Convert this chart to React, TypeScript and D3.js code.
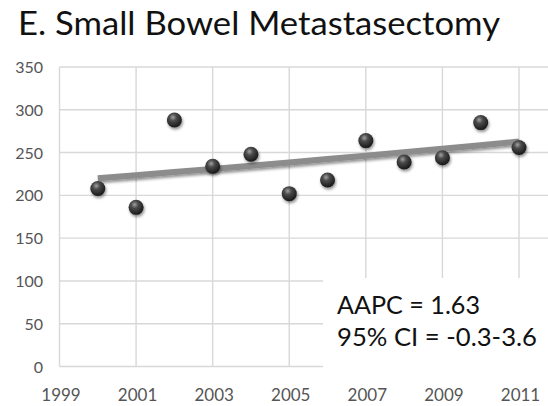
import React from "react";
import * as d3 from "d3";

// Annual counts of small bowel metastasectomy procedures
const years = [2000, 2001, 2002, 2003, 2004, 2005, 2006, 2007, 2008, 2009, 2010, 2011];
const counts = [208, 186, 288, 234, 248, 202, 218, 264, 239, 244, 285, 256];

// Joinpoint fit: fitted value in the first year and the annual percent change
const fitStart = 220;
const aapc = 1.63;
const ciLow = -0.3;
const ciHigh = 3.6;

const yTicks = [0, 50, 100, 150, 200, 250, 300, 350];
const xTicks = [1999, 2001, 2003, 2005, 2007, 2009, 2011];

const W = 548;
const H = 406;
const FONT = "Lato, 'Open Sans', sans-serif";

export default function App() {
  const x = d3.scaleLinear().domain([1999, 2011]).range([59.5, 519]);
  const y = d3.scaleLinear().domain([0, 350]).range([366.5, 67]);
  const plotRight = W;

  const fit = years.map((yr) => [yr, fitStart * Math.pow(1 + aapc / 100, yr - years[0])] as [number, number]);
  const line = d3
    .line<[number, number]>()
    .x((d) => x(d[0]))
    .y((d) => y(d[1]));

  return (
    <div style={{ position: "absolute", left: 0, top: 0, width: W, height: H, background: "#fff" }}>
      <svg width={W} height={H} style={{ display: "block" }}>
        <defs>
          <radialGradient id="ball" cx="0.4" cy="0.32" r="0.7">
            <stop offset="0" stopColor="#a0a0a0" />
            <stop offset="0.35" stopColor="#4a4a4a" />
            <stop offset="1" stopColor="#161616" />
          </radialGradient>
          <filter id="shadow" x="-50%" y="-50%" width="200%" height="200%">
            <feGaussianBlur in="SourceAlpha" stdDeviation="1.6" />
            <feOffset dx="1" dy="2" result="b" />
            <feComponentTransfer>
              <feFuncA type="linear" slope="0.45" />
            </feComponentTransfer>
            <feMerge>
              <feMergeNode />
              <feMergeNode in="SourceGraphic" />
            </feMerge>
          </filter>
        </defs>
        <rect width={W} height={H} fill="#fff" />

        <text
          x={18}
          y={35}
          fontFamily={FONT}
          fontSize={33}
          fill="#111"
          textLength={482}
          lengthAdjust="spacingAndGlyphs"
        >
          E. Small Bowel Metastasectomy
        </text>

        {/* gridlines */}
        <g stroke="#d8d8d8" strokeWidth={1.4}>
          {yTicks.map((t) => (
            <line key={t} x1={x(1999)} x2={plotRight} y1={y(t)} y2={y(t)} />
          ))}
          {xTicks.map((t) => (
            <line key={t} x1={x(t)} x2={x(t)} y1={y(350)} y2={y(0)} />
          ))}
        </g>

        {/* y tick labels */}
        <g fontFamily={FONT} fontSize={16} fill="#555" textAnchor="end">
          {yTicks.map((t) => (
            <text key={t} x={43} y={y(t) + 6}>
              {t}
            </text>
          ))}
        </g>

        {/* x tick labels */}
        <g fontFamily={FONT} fontSize={17} fill="#555" textAnchor="middle">
          {xTicks.map((t) => (
            <text key={t} x={x(t) + 1.5} y={401}>
              {t}
            </text>
          ))}
        </g>

        {/* fitted trend */}
        <path
          d={line(fit) ?? ""}
          fill="none"
          stroke="#8c8c8c"
          strokeWidth={6}
          filter="url(#shadow)"
        />

        {/* observed counts */}
        <g filter="url(#shadow)">
          {years.map((yr, i) => (
            <circle key={yr} cx={x(yr)} cy={y(counts[i])} r={7.5} fill="url(#ball)" />
          ))}
        </g>

        {/* annotation box */}
        <rect x={323} y={278} width={W - 323} height={98} fill="#fff" />
        <g fontFamily={FONT} fontSize={25} fill="#111" lengthAdjust="spacingAndGlyphs">
          <text x={337} y={314} textLength={143} lengthAdjust="spacingAndGlyphs">{`AAPC = ${aapc.toFixed(2)}`}</text>
          <text x={337} y={346} textLength={200} lengthAdjust="spacingAndGlyphs">{`95% CI = ${ciLow}-${ciHigh}`}</text>
        </g>
      </svg>
    </div>
  );
}
